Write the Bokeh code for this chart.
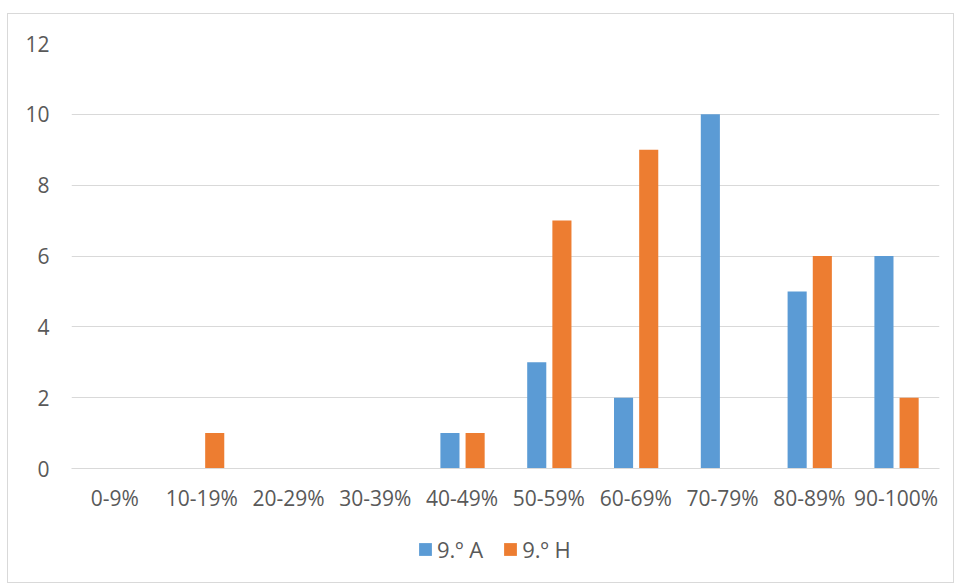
from bokeh.plotting import figure
from bokeh.layouts import column
from bokeh.models import FactorRange, Range1d, FixedTicker, Legend, LegendItem, ColumnDataSource
from bokeh.transform import dodge
from bokeh.embed import file_html
from bokeh.resources import INLINE

categories = ["0-9%", "10-19%", "20-29%", "30-39%", "40-49%", "50-59%", "60-69%", "70-79%", "80-89%", "90-100%"]
series_a = [0, 0, 0, 0, 1, 3, 2, 10, 5, 6]
series_h = [0, 1, 0, 0, 1, 7, 9, 0, 6, 2]
series_names = ["9.º A", "9.º H"]
colors = ["#5B9BD5", "#ED7D31"]
y_ticks = [0, 2, 4, 6, 8, 10, 12]

src = ColumnDataSource(dict(cat=categories, a=series_a, h=series_h))

FONT = "Open Sans"
TXT = "#595959"
GRID = "#d9d9d9"

p = figure(width=945, height=520, x_range=FactorRange(*categories, range_padding=0),
           y_range=Range1d(0, 12), output_backend="svg", toolbar_location=None,
           min_border_left=63, min_border_right=14, min_border_top=29, min_border_bottom=66)
p.outline_line_color = None

p.vbar(x=dodge("cat", -0.14, range=p.x_range), top="a", width=0.22, source=src,
       fill_color=colors[0], line_color=None)
p.vbar(x=dodge("cat", 0.15, range=p.x_range), top="h", width=0.22, source=src,
       fill_color=colors[1], line_color=None)

p.yaxis.ticker = FixedTicker(ticks=y_ticks)
p.yaxis.axis_line_color = None
p.yaxis.major_tick_line_color = None
p.yaxis.minor_tick_line_color = None
p.yaxis.major_label_standoff = 16
p.xaxis.axis_line_color = GRID
p.xaxis.major_tick_line_color = None
p.xaxis.major_label_standoff = 9
for ax in (p.xaxis, p.yaxis):
    ax.major_label_text_font = FONT
    ax.major_label_text_font_size = "21px"
    ax.major_label_text_color = TXT

p.xgrid.grid_line_color = None
p.ygrid.grid_line_color = GRID
p.ygrid.ticker = FixedTicker(ticks=y_ticks)

# legend strip below the chart (same series, drawn out of view so only the legend shows)
lp = figure(width=945, height=48, x_range=FactorRange(*categories, range_padding=0),
            y_range=Range1d(100, 101), output_backend="svg", toolbar_location=None,
            x_axis_type=None, y_axis_type=None, min_border=0)
lp.outline_line_color = None
lp.xgrid.visible = False
lp.ygrid.visible = False
la = lp.vbar(x="cat", top="a", width=0.22, source=src, fill_color=colors[0], line_color=None)
lh = lp.vbar(x="cat", top="h", width=0.22, source=src, fill_color=colors[1], line_color=None)
legend = Legend(items=[LegendItem(label=series_names[0], renderers=[la]),
                       LegendItem(label=series_names[1], renderers=[lh])],
                orientation="horizontal", location=(346, 18),
                label_text_font=FONT, label_text_font_size="22px", label_text_color=TXT,
                glyph_width=16, glyph_height=16, label_standoff=4, spacing=19,
                border_line_color=None, background_fill_alpha=0, margin=0, padding=0)
lp.add_layout(legend, "center")

layout = column(p, lp, spacing=0)
layout.styles = {"margin-top": "13px", "margin-left": "7px", "border": "1px solid #d9d9d9"}

open("out.html", "w").write(file_html(layout, INLINE))
